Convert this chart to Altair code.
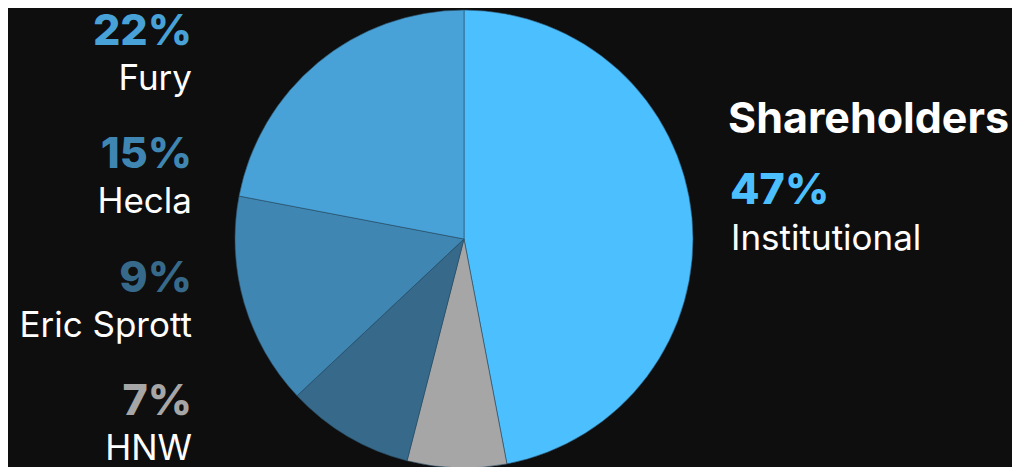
import altair as alt
import pandas as pd

labels = ["Institutional", "HNW", "Eric Sprott", "Hecla", "Fury"]
values = [47, 7, 9, 15, 22]
colors = ["#4CBFFF", "#A6A6A6", "#376A8A", "#3F86B2", "#48A2D7"]
left_order = ["Fury", "Hecla", "Eric Sprott", "HNW"]
title_text = "Shareholders"

df = pd.DataFrame({
    "label": labels,
    "value": values,
    "idx": list(range(len(labels))),
    "pct": [f"{v}%" for v in values],
})
df["row"] = [left_order.index(l) if l in left_order else -1 for l in labels]

FONT = "Inter"
color_scale = alt.Scale(domain=labels, range=colors)

base = alt.Chart(df)

pie = base.mark_arc(outerRadius=229, stroke="#2a4f68", strokeWidth=0.6).encode(
    theta=alt.Theta("value:Q", stack=True),
    order=alt.Order("idx:Q"),
    color=alt.Color("label:N", scale=color_scale, legend=None),
    x=alt.value(456),
    y=alt.value(229),
)

left = base.transform_filter("datum.row >= 0")

left_pct = left.mark_text(align="right", baseline="alphabetic", font=FONT,
                          fontSize=43, fontWeight=800).encode(
    x=alt.value(184),
    y=alt.Y("row:Q", scale=alt.Scale(domain=[0, 3], range=[35, 405]), axis=None),
    text="pct:N",
    color=alt.Color("label:N", scale=color_scale, legend=None),
)

left_name = left.mark_text(align="right", baseline="alphabetic", font=FONT,
                           fontSize=35, color="#FFFFFF").encode(
    x=alt.value(184),
    y=alt.Y("row:Q", scale=alt.Scale(domain=[0, 3], range=[80, 450]), axis=None),
    text="label:N",
)

right = base.transform_filter("datum.row < 0")

right_title = right.mark_text(align="left", baseline="alphabetic", font=FONT,
                              fontSize=43, fontWeight="bold", color="#FFFFFF").encode(
    x=alt.value(720), y=alt.value(123), text=alt.value(title_text),
)
right_pct = right.mark_text(align="left", baseline="alphabetic", font=FONT,
                            fontSize=43, fontWeight=800).encode(
    x=alt.value(722), y=alt.value(194), text="pct:N",
    color=alt.Color("label:N", scale=color_scale, legend=None),
)
right_name = right.mark_text(align="left", baseline="alphabetic", font=FONT,
                             fontSize=35, color="#FFFFFF").encode(
    x=alt.value(723), y=alt.value(240), text="label:N",
)

chart = alt.layer(pie, left_pct, left_name, right_title, right_pct, right_name).resolve_scale(
    y="independent"
).properties(
    width=1004, height=459, padding=0, background="#0E0E0E"
).configure_view(stroke=None)

chart.save("out.html", embed_options={"renderer": "svg", "actions": False})
